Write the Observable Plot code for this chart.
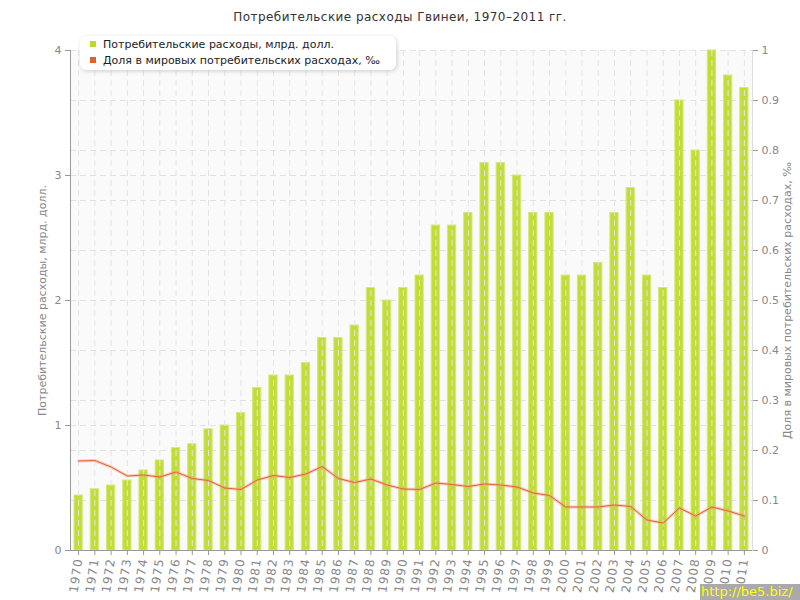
<!DOCTYPE html>
<html><head><meta charset="utf-8">
<script src="https://cdn.jsdelivr.net/npm/d3@7"></script>
<script src="https://cdn.jsdelivr.net/npm/@observablehq/plot@0.6"></script>
<style>
body{margin:0;background:#fff;font-family:"DejaVu Sans",sans-serif;}
#wrap{position:relative;width:800px;height:600px;overflow:hidden;}
#title{position:absolute;top:10px;left:0;width:800px;text-align:center;font-size:12px;letter-spacing:0.45px;color:#333;}
#chart{position:absolute;top:30px;left:0;}
#legend{position:absolute;left:80px;top:36px;width:316px;height:34px;background:#fff;border-radius:6px;box-shadow:1px 1px 4px rgba(0,0,0,0.18);font-size:11px;color:#222;}
.li{position:absolute;left:10px;height:14px;line-height:14px;}
.sw{display:inline-block;width:6px;height:6px;margin-right:7px;vertical-align:1px;}
#wm{position:absolute;right:0;bottom:0;width:100px;height:16px;background:#aaa;color:#ff0;font-size:13px;line-height:16px;text-align:left;padding-left:1px;box-sizing:border-box;white-space:nowrap;}
g[aria-label="x-axis tick label"] text{letter-spacing:1px;}
</style>
</head><body>
<div id="wrap">
<div id="title">Потребительские расходы Гвинеи, 1970–2011 гг.</div>
<div id="chart"></div>
<div id="legend">
 <div class="li" style="top:2px"><span class="sw" style="background:#bcd932"></span>Потребительские расходы, млрд. долл.</div>
 <div class="li" style="top:18px"><span class="sw" style="background:#e0602e"></span>Доля в мировых потребительских расходах, ‰</div>
</div>
<div id="wm">http://be5.biz/</div>
</div>
<script>
const years = [1970,1971,1972,1973,1974,1975,1976,1977,1978,1979,1980,1981,1982,1983,1984,1985,1986,1987,1988,1989,1990,1991,1992,1993,1994,1995,1996,1997,1998,1999,2000,2001,2002,2003,2004,2005,2006,2007,2008,2009,2010,2011];
const spending = [0.44,0.49,0.52,0.56,0.64,0.72,0.82,0.85,0.97,1.0,1.1,1.3,1.4,1.4,1.5,1.7,1.7,1.8,2.1,2.0,2.1,2.2,2.6,2.6,2.7,3.1,3.1,3.0,2.7,2.7,2.2,2.2,2.3,2.7,2.9,2.2,2.1,3.6,3.2,4.0,3.8,3.7];
const share = [0.179,0.18,0.167,0.149,0.151,0.147,0.157,0.144,0.14,0.125,0.122,0.141,0.15,0.146,0.153,0.168,0.144,0.136,0.143,0.131,0.123,0.122,0.135,0.132,0.128,0.133,0.131,0.127,0.115,0.11,0.087,0.087,0.087,0.091,0.088,0.061,0.055,0.085,0.069,0.087,0.079,0.069];
const leftTicks = [0,1,2,3,4];
const rightTicks = [0,0.1,0.2,0.3,0.4,0.5,0.6,0.7,0.8,0.9,1];
const ratio = 4; // right axis 0..1 maps to left 0..4

const data = years.map((y,i)=>({year:String(y), spending:spending[i], share:share[i]*ratio}));
const yearStr = years.map(String);

const chart = Plot.plot({
  width: 800, height: 570,
  marginLeft: 70, marginRight: 48, marginTop: 20, marginBottom: 50,
  style: {fontFamily: "DejaVu Sans, sans-serif", fontSize: "11px", color: "#888", background: "transparent"},
  x: {type: "band", domain: yearStr, padding: 0, round: false, axis: null},
  y: {domain: [0, 4], axis: null},
  marks: [
    Plot.frame({fill: "#fafafa", stroke: null}),
    Plot.ruleY(rightTicks.slice(1).map(v=>v*ratio), {stroke: "#e2e2e2", strokeDasharray: "6,4"}),
    Plot.ruleY(leftTicks.slice(1,4), {stroke: "#e2e2e2", strokeDasharray: "6,4"}),
    Plot.barY(data, {x: "year", y: "spending", fill: "#c3dd38", stroke: "#d3e87a", strokeWidth: 1, insetLeft: 4, insetRight: 4}),
    Plot.ruleX(yearStr, {x: d=>d, stroke: "#e4e4e4", strokeDasharray: "6,4"}),
    Plot.line(data, {x: "year", y: "share", stroke: "#f0a080", strokeWidth: 3, strokeOpacity: 0.5}),
    Plot.line(data, {x: "year", y: "share", stroke: "#e5623a", strokeWidth: 1}),
    Plot.frame({anchor: "left", stroke: "#999"}),
    Plot.frame({anchor: "bottom", stroke: "#999"}),
    Plot.frame({anchor: "right", stroke: "#ddd"}),
    Plot.axisY(leftTicks, {anchor: "left", tickSize: 5, tickPadding: 4, stroke: "#999", fill: "#888", label: null, tickFormat: d=>String(d)}),
    Plot.axisY(rightTicks.map(v=>v*ratio), {anchor: "right", tickSize: 5, tickPadding: 4, stroke: "#999", fill: "#888", label: null, tickFormat: d=>String(+(d/ratio).toFixed(1))}),
    Plot.axisX(yearStr, {anchor: "bottom", tickSize: 5, tickPadding: 3, tickRotate: -82, stroke: "#999", fill: "#888", label: null, fontSize: 12}),
    Plot.text(["Потребительские расходы, млрд. долл."], {frameAnchor: "left", textAnchor: "middle", dx: -28, rotate: -90, fill: "#888", fontSize: 11}),
    Plot.text(["Доля в мировых потребительских расходах, ‰"], {frameAnchor: "right", textAnchor: "middle", dx: 35, rotate: -90, fill: "#888", fontSize: 11})
  ]
});
document.getElementById("chart").appendChild(chart);
</script>
</body></html>
